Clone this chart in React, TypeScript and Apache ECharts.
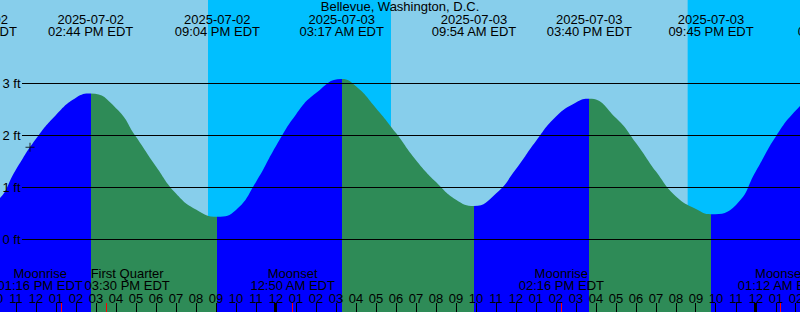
import React, { useEffect, useRef } from "react";
import * as echarts from "echarts";

// ---------------- data ----------------
const TITLE = "Bellevue, Washington, D.C.";
const TZ = "EDT";
const BASE_DATE = "2025-07-02"; // hour 0 = 2025-07-02 00:00 EDT
const VIEW_START = "2025-07-02T10:12";
const VIEW_END = "2025-07-04T02:12";

// tide height (ft) read at whole hours (hours since 2025-07-02 00:00 EDT)
const hourTimes = [10, 11, 12, 13, 14, 16, 17, 18, 19, 20, 22, 23, 24, 25, 26, 28, 29, 30,
  31, 32, 33, 35, 36, 37, 38, 39, 41, 42, 43, 44, 45, 47, 48, 49, 50, 51];
const hourHeights = [0.73, 1.34, 1.93, 2.39, 2.72, 2.52, 1.97, 1.40, 0.88, 0.57, 0.56, 1.10,
  1.79, 2.40, 2.81, 2.94, 2.52, 2.04, 1.52, 1.10, 0.76, 0.88, 1.35, 1.89, 2.36, 2.63,
  2.33, 1.85, 1.30, 0.82, 0.58, 0.66, 1.31, 1.98, 2.48, 2.80];

// high / low tides
const extremeStamps = ["2025-07-02T08:56", "2025-07-02T14:44", "2025-07-02T21:04", "2025-07-03T03:17",
  "2025-07-03T09:54", "2025-07-03T15:40", "2025-07-03T21:45", "2025-07-04T04:12"];
const extremeHeights = [0.62, 2.80, 0.43, 3.08, 0.64, 2.70, 0.48, 3.0];
const extremeKinds = ["L", "H", "L", "H", "L", "H", "L", "H"];

// night (sunset -> sunrise)
const sunsetStamps = ["2025-07-02T20:36", "2025-07-03T20:35"];
const sunriseStamps = ["2025-07-03T05:45", "2025-07-04T05:46"];

// moon events
const moonStamps = ["2025-07-02T13:16", "2025-07-02T15:30", "2025-07-03T00:50", "2025-07-03T14:16", "2025-07-04T01:12"];
const moonNames = ["Moonrise", "First Quarter", "Moonset", "Moonrise", "Moonset"];

// depth reference lines
const depthTicks = [0, 1, 2, 3];
const depthUnit = "ft";

// current-time marker
const markerStamp = "2025-07-02T11:42";
const markerHeight = 1.77;

// ---------------- styles ----------------
const DAY = "#87CEEB";
const NIGHT = "#00BFFF";
const RISING = "#0000FF";
const FALLING = "#2E8B57";
const FONT = '13px "Liberation Sans", Arial, sans-serif';
const Y_MIN = -1.4;
const Y_MAX = 4.6;
const W = 800;
const H = 312;

function toHours(stamp: string): number {
  const base = parseInt(BASE_DATE.slice(8, 10), 10);
  const day = parseInt(stamp.slice(8, 10), 10);
  const hh = parseInt(stamp.slice(11, 13), 10);
  const mm = parseInt(stamp.slice(14, 16), 10);
  return (day - base) * 24 + hh + mm / 60;
}
function pad(n: number) {
  return (n < 10 ? "0" : "") + n;
}
function clock(stamp: string): string {
  const hh = parseInt(stamp.slice(11, 13), 10);
  const mm = parseInt(stamp.slice(14, 16), 10);
  const h12 = hh % 12 === 0 ? 12 : hh % 12;
  return `${pad(h12)}:${pad(mm)} ${hh < 12 ? "AM" : "PM"} ${TZ}`;
}

function text(str: string, x: number, y: number, align = "center", fill = "#000") {
  return {
    type: "text",
    z: 100,
    silent: true,
    x,
    y,
    style: {
      text: str,
      font: FONT,
      fill,
      align,
      textAlign: align,
      verticalAlign: "middle",
      textVerticalAlign: "middle",
    },
  };
}
function vline(x: number, y1: number, y2: number, color: string, width = 1) {
  return {
    type: "line",
    z: 100,
    silent: true,
    shape: { x1: x, y1, x2: x, y2 },
    style: { stroke: color, lineWidth: width },
  };
}

export default function App() {
  const ref = useRef<HTMLDivElement>(null);

  useEffect(() => {
    if (!ref.current) return;
    const chart = echarts.init(ref.current, null, { renderer: "svg" });

    const xMin = toHours(VIEW_START);
    const xMax = toHours(VIEW_END);
    const extremeTimes = extremeStamps.map(toHours);

    const tide: [number, number][] = [];
    hourTimes.forEach((t, i) => tide.push([t, hourHeights[i]]));
    extremeTimes.forEach((t, i) => tide.push([t, extremeHeights[i]]));
    tide.sort((a, b) => a[0] - b[0]);

    const colorTo = (kind: string) => (kind === "H" ? RISING : FALLING);
    const pieces: any[] = [{ lt: extremeTimes[0], color: colorTo(extremeKinds[0]) }];
    for (let i = 0; i < extremeTimes.length - 1; i++) {
      pieces.push({ gte: extremeTimes[i], lt: extremeTimes[i + 1], color: colorTo(extremeKinds[i + 1]) });
    }
    pieces.push({ gte: extremeTimes[extremeTimes.length - 1], color: extremeKinds[extremeKinds.length - 1] === "H" ? FALLING : RISING });

    const nights = sunsetStamps.map((s, i) => [
      { xAxis: Math.max(xMin, toHours(s)) },
      { xAxis: Math.min(xMax, toHours(sunriseStamps[i])) },
    ]);

    chart.setOption({
      animation: false,
      backgroundColor: DAY,
      grid: { left: 0, right: 0, top: 0, bottom: 0, containLabel: false },
      xAxis: { type: "value", min: xMin, max: xMax, show: false },
      yAxis: { type: "value", min: Y_MIN, max: Y_MAX, show: false },
      visualMap: { show: false, type: "piecewise", dimension: 0, seriesIndex: 1, pieces },
      series: [
        {
          type: "line",
          z: 1,
          data: [[xMin, Y_MIN]],
          showSymbol: false,
          lineStyle: { opacity: 0 },
          silent: true,
          markArea: { silent: true, itemStyle: { color: NIGHT, opacity: 1 }, data: nights },
        },
        {
          type: "line",
          z: 2,
          data: tide,
          smooth: 0.5,
          showSymbol: false,
          silent: true,
          lineStyle: { width: 0 },
          areaStyle: { opacity: 1, origin: "start" },
        },
        {
          type: "scatter",
          z: 5,
          silent: true,
          data: [[toHours(markerStamp), markerHeight]],
          symbol: "path://M0,4H9V5H0Z M4,0H5V9H4Z",
          symbolSize: 9,
          itemStyle: { color: "#000" },
        },
      ],
    });

    const px = (t: number) => chart.convertToPixel({ xAxisIndex: 0 }, t) as number;
    const py = (v: number) => chart.convertToPixel({ yAxisIndex: 0 }, v) as number;

    const els: any[] = [];
    // title
    els.push(text(TITLE, W / 2, 6.5));
    // tide extremes labels
    extremeStamps.forEach((s, i) => {
      const x = px(extremeTimes[i]);
      els.push(text(s.slice(0, 10), x, 19.5));
      els.push(text(clock(s), x, 31.5));
    });
    // depth lines
    depthTicks.forEach((v) => {
      const y = Math.floor(py(v)) + 0.5;
      els.push({
        type: "line",
        z: 100,
        silent: true,
        shape: { x1: 22, y1: y, x2: W, y2: y },
        style: { stroke: "#000", lineWidth: 1 },
      });
      els.push(text(`${v} ${depthUnit}`, 20.5, py(v), "right"));
    });
    // hour ticks and labels
    for (let h = Math.floor(xMin); h <= Math.ceil(xMax); h++) {
      const x = px(h);
      if (x >= 0 && x <= W) {
        if (h % 24 === 0) {
          els.push({
            type: "rect",
            z: 100,
            silent: true,
            shape: { x: Math.round(x) - 2, y: 303, width: 3, height: 9 },
            style: { fill: "#000" },
          });
        } else {
          els.push(vline(Math.floor(x) + 0.5, 303, 312, "#000"));
        }
      }
      const hh = h % 12 === 0 ? 12 : h % 12;
      els.push(text(pad(hh), x, 298));
    }
    // moon events
    const moonTimes = moonStamps.map(toHours);
    const centers = moonTimes.map(px);
    const MIN_SEP = 87;
    for (let i = 0; i < centers.length - 1; i++) {
      if (centers[i + 1] - centers[i] < MIN_SEP) {
        const mid = (centers[i] + centers[i + 1]) / 2;
        centers[i] = mid - MIN_SEP / 2;
        centers[i + 1] = mid + MIN_SEP / 2;
      }
    }
    moonTimes.forEach((t, i) => {
      els.push(vline(Math.floor(px(t)) + 0.5, 303, 312, "#FF0000"));
      els.push(text(moonNames[i], centers[i], 273.8));
      els.push(text(clock(moonStamps[i]), centers[i], 285.5));
    });

    chart.setOption({ graphic: { elements: els } });

    return () => chart.dispose();
  }, []);

  return (
    <div
      ref={ref}
      style={{ position: "absolute", left: 0, top: 0, width: W, height: H }}
    />
  );
}
